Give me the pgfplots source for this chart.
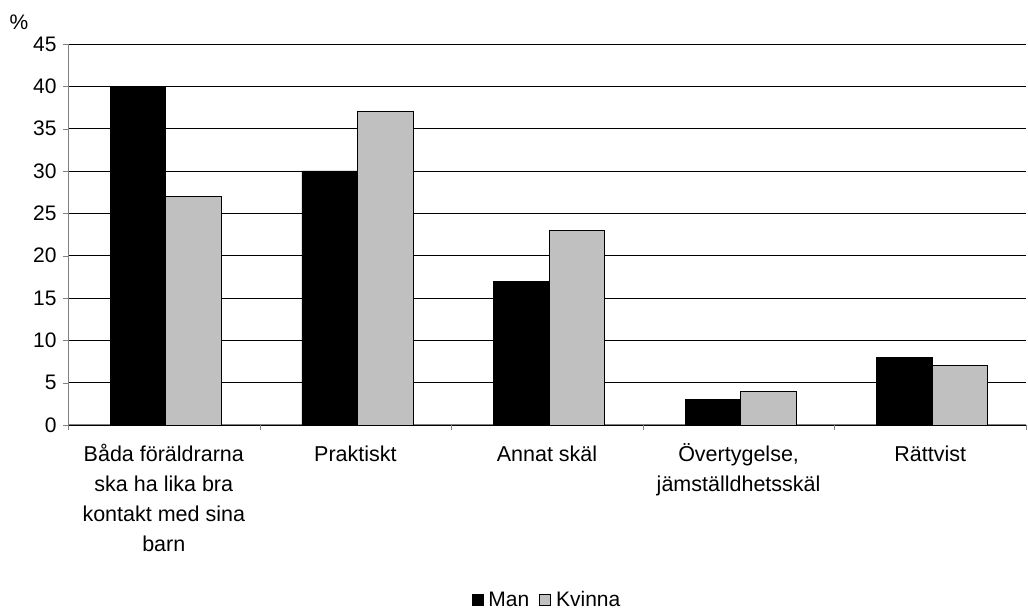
\documentclass[border=0pt]{standalone}
\usepackage{pgfplots}
\pgfplotsset{compat=1.18}
\usepackage{fontspec}
\setmainfont{Liberation Sans}
\definecolor{kv}{RGB}{192,192,192}
\definecolor{ax}{RGB}{128,128,128}
\newcommand{\st}{\rule{0pt}{20pt}}
\begin{document}
\begin{tikzpicture}[x=1pt,y=1pt]
\useasboundingbox (0,0) rectangle (1028,612);
\begin{axis}[
  at={(68pt,187pt)}, anchor=south west,
  scale only axis, width=958pt, height=381pt,
  ymin=0, ymax=45, ytick={0,5,...,45},
  xmin=-0.5, xmax=4.5,
  xtick={0,1,2,3,4},
  xticklabels={{\st Båda föräldrarna\\ska ha lika bra\\kontakt med sina\\barn},{\st Praktiskt},{\st Annat skäl},{\st Övertygelse,\\jämställdhetsskäl},{\st Rättvist}},
  xticklabel style={align=center, font=\fontsize{21.5}{30}\selectfont, anchor=north, yshift=-8pt},
  yticklabel style={font=\fontsize{21}{24}\selectfont, xshift=-3pt},
  /pgf/number format/assume math mode=true,
  minor xtick={-0.5,0.5,...,4.5},
  major x tick style={draw=none},
  minor x tick style={draw=ax},
  y tick style={draw=ax},
  tick align=outside, major tick length=5pt, minor tick length=5pt,
  axis lines*=left,
  axis line style={draw=ax, line width=1pt},
  ymajorgrids, grid style={black, line width=0.8pt},
  ybar=0pt, bar width=55.5pt,
  legend columns=2,
  legend style={at={(0.5,-0.459)}, anchor=center, draw=none, font=\fontsize{21}{24}\selectfont,
    /tikz/every odd column/.append style={column sep=3pt},
    /tikz/every even column/.append style={column sep=8pt}},
  legend image code/.code={\draw[#1, line width=0.8pt] (0pt,-5.5pt) rectangle (11pt,5.5pt);},
  clip=false,
]
\addplot[fill=black, draw=black, line width=0.8pt, xshift=2pt] coordinates {(0,40) (1,30) (2,17) (3,3) (4,8)};
\addplot[fill=kv, draw=black, line width=0.8pt, xshift=2pt] coordinates {(0,27) (1,37) (2,23) (3,4) (4,7)};
\legend{Man, Kvinna}
\node[font=\fontsize{21}{24}\selectfont] at (rel axis cs:0,1) [xshift=-49pt, yshift=22pt] {\%};
\end{axis}
\end{tikzpicture}
\end{document}
